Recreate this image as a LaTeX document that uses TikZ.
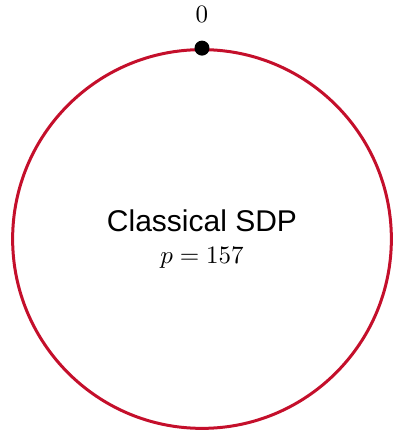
\documentclass[tikz,border=0pt]{standalone}
\usepackage{fontspec}
\setsansfont{Liberation Sans}
\definecolor{ringred}{HTML}{C40F2B}
\usetikzlibrary{positioning}

\begin{document}
\begin{tikzpicture}[
      node distance=3.5pt,
      ring/.style={circle, draw=ringred, line width=1.2pt, minimum size=151.5pt,
                   inner sep=0pt, align=center},
      dot/.style={circle, fill=black, minimum size=6pt, inner sep=0pt}
    ]
    \useasboundingbox (0,0) rectangle (157.6pt,172pt);
    \node[ring] (ring) at (80.8pt,76.4pt)
      {{\large\sffamily Classical SDP}\\[1pt] $p = 157$};
    \node[dot] (d0) at (ring.north) {};
    \node[above=of d0] (l0) {$0$};
  \end{tikzpicture}
\end{document}
